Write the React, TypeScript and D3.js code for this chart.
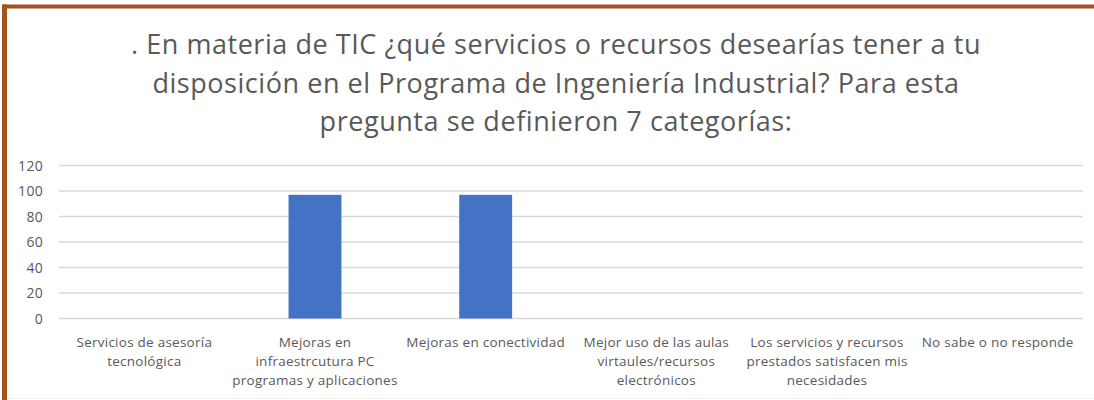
import React from "react";
import * as d3 from "d3";

const titleLines = [
  ". En materia de TIC ¿qué servicios o recursos desearías tener a tu",
  "disposición en el Programa de Ingeniería Industrial? Para esta",
  "pregunta se definieron 7 categorías:",
];

const categories = [
  "Servicios de asesoría tecnológica",
  "Mejoras en infraestrcutura PC programas y aplicaciones",
  "Mejoras en conectividad",
  "Mejor uso de las aulas virtaules/recursos electrónicos",
  "Los servicios y recursos prestados satisfacen mis necesidades",
  "No sabe o no responde",
];

const categoryLines = [
  ["Servicios de asesoría", "tecnológica"],
  ["Mejoras en", "infraestrcutura PC", "programas y aplicaciones"],
  ["Mejoras en conectividad"],
  ["Mejor uso de las aulas", "virtaules/recursos", "electrónicos"],
  ["Los servicios y recursos", "prestados satisfacen mis", "necesidades"],
  ["No sabe o no responde"],
];

const values = [0, 97, 97, 0, 0, 0];

const yTicks = [0, 20, 40, 60, 80, 100, 120];

const W = 1094;
const H = 400;
const FONT = "'Open Sans', Lato, sans-serif";
const TEXT = "#595959";

export default function App() {
  const x = d3.scaleBand<string>().domain(categories).range([59, 1083]).paddingInner(0.69).paddingOuter(0.345);
  const xb = d3.scaleBand<string>().domain(categories).range([59, 1083]);
  const y = d3.scaleLinear().domain([0, 120]).range([318.5, 165.5]);

  return (
    <svg
      width={W}
      height={H}
      style={{ position: "absolute", left: 0, top: 0, background: "#fff" }}
      fontFamily={FONT}
    >
      <rect x={0} y={0} width={W} height={H} fill="#fff" />
      {/* frame */}
      <line x1={2} x2={W} y1={6.5} y2={6.5} stroke="#A5531C" strokeWidth={4} />
      <line x1={4.5} x2={4.5} y1={4.5} y2={H} stroke="#A5531C" strokeWidth={5} />
      <line x1={7} x2={W} y1={398.5} y2={398.5} stroke="#F2F2F2" strokeWidth={1} />

      {/* title */}
      {titleLines.map((t, i) => (
        <text
          key={i}
          x={556}
          y={54 + i * 38.5}
          textAnchor="middle"
          fontSize={27}
          letterSpacing={0.55}
          fill={TEXT}
        >
          {t}
        </text>
      ))}

      {/* gridlines */}
      {yTicks.map((t) => (
        <g key={t}>
          <line x1={59} x2={1083} y1={y(t)} y2={y(t)} stroke="#D9D9D9" strokeWidth={1.5} />
          <text x={43} y={y(t) + 5} textAnchor="end" fontSize={14} letterSpacing={0.3} fill={TEXT}>
            {t}
          </text>
        </g>
      ))}

      {/* bars */}
      {categories.map((c, i) =>
        values[i] > 0 ? (
          <rect
            key={c}
            x={x(c)}
            y={y(values[i])}
            width={x.bandwidth()}
            height={y(0) - y(values[i])}
            fill="#4472C4"
          />
        ) : null
      )}

      {/* category labels */}
      {categories.map((c, i) => (
        <text
          key={c}
          x={(xb(c) as number) + xb.bandwidth() / 2}
          textAnchor="middle"
          fontSize={13.5}
          letterSpacing={0.25}
          fill={TEXT}
        >
          {categoryLines[i].map((l, j) => (
            <tspan key={j} x={(xb(c) as number) + xb.bandwidth() / 2} y={346.5 + j * 19}>
              {l}
            </tspan>
          ))}
        </text>
      ))}
    </svg>
  );
}
